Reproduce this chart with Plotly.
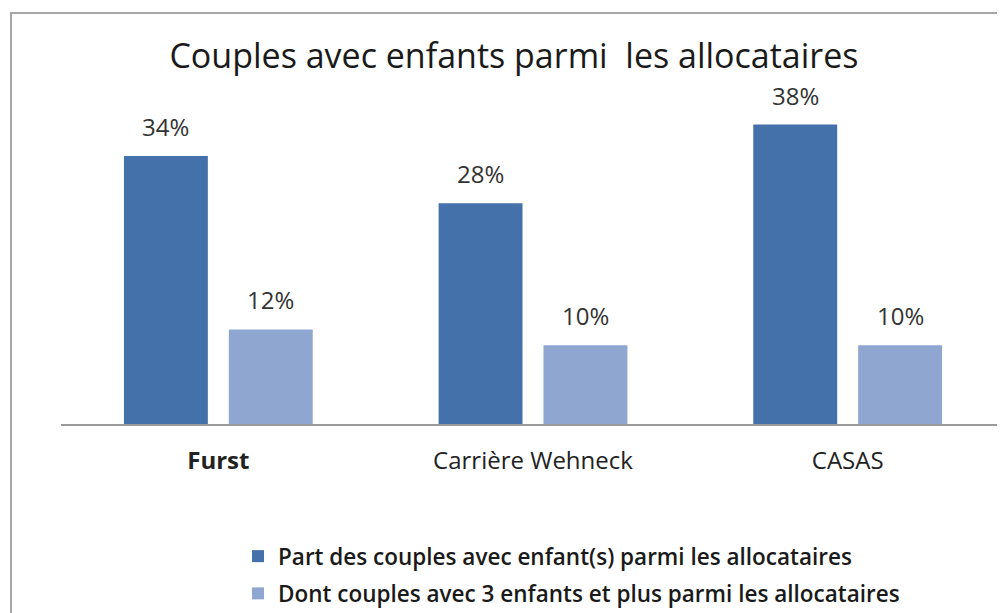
import plotly.graph_objects as go

categories = ["Furst", "Carrière Wehneck", "CASAS"]
tick_labels = ["<b>Furst</b>", "Carrière Wehneck", "CASAS"]
series_names = [
    "Part des couples avec enfant(s) parmi les allocataires",
    "Dont couples avec 3 enfants et plus parmi les allocataires",
]
part_couples = [34, 28, 38]
couples_3plus = [12, 10, 10]
colors = ["#4571AA", "#8EA6D0"]
title_text = "Couples avec enfants parmi  les allocataires"

FONT = "Open Sans, Liberation Sans, sans-serif"

# page body has an 8px margin
OFF = 8
W, H = 997, 605
L, T = 61 - OFF, 30 - OFF
B = H - (424 - OFF)
PW, PH = W - L, H - T - B

fig = go.Figure()
for i, (name, vals) in enumerate(zip(series_names, [part_couples, couples_3plus])):
    fig.add_trace(go.Bar(
        x=categories, y=vals, name=name,
        marker=dict(color=colors[i], line=dict(width=0)),
        legendgroup=f"g{i}",
        hoverinfo="skip",
    ))

bargap = 1 / 3
nser = 2
slot = (1 - bargap) / nser
annotations = []
for i, vals in enumerate([part_couples, couples_3plus]):
    off = -(1 - bargap) / 2 + slot * (i + 0.5)
    for j, v in enumerate(vals):
        annotations.append(dict(
            x=j + off, y=v, xref="x", yref="y",
            text=f"{v}%", showarrow=False,
            yanchor="bottom", yshift=11,
            font=dict(family=FONT, size=24, color="#333333"),
        ))

fig.update_layout(
    width=W, height=H,
    margin=dict(l=L, r=0, t=T, b=B, pad=0, autoexpand=False),
    paper_bgcolor="white", plot_bgcolor="white",
    barmode="group", bargap=bargap, bargroupgap=0.2,
    title=dict(text=title_text, x=(514 - OFF) / W, xanchor="center",
               y=1 - (56 - OFF) / H, yanchor="middle",
               font=dict(family=FONT, size=34, color="#1a1a1a"),
               automargin=False),
    showlegend=True,
    legend=dict(orientation="v", x=(238 - OFF - L) / PW, xanchor="left",
                y=-(535 - OFF - (H - B)) / PH, yanchor="top",
                font=dict(family=FONT, size=22.5, color="#1a1a1a", weight=600),
                tracegroupgap=5, traceorder="grouped", bgcolor="rgba(0,0,0,0)"),
    annotations=annotations,
    shapes=[dict(type="rect", xref="paper", yref="paper",
                 x0=(11 - OFF - L) / PW, x1=1.1, y0=-0.7, y1=((H - B) - (13 - OFF)) / PH,
                 line=dict(color="#A6A6A6", width=2), fillcolor="rgba(0,0,0,0)", layer="below")],
)
fig.update_xaxes(showline=True, linecolor="#9A9A9A", linewidth=2, ticks="",
                 tickmode="array", tickvals=categories, ticktext=tick_labels,
                 ticklabelstandoff=14,
                 tickfont=dict(family=FONT, size=24, color="#222222"),
                 showgrid=False, zeroline=False, automargin=False)
fig.update_yaxes(range=[0, 50], showticklabels=False, showgrid=False, zeroline=False,
                 showline=False, automargin=False)

fig.write_html("out.html")
